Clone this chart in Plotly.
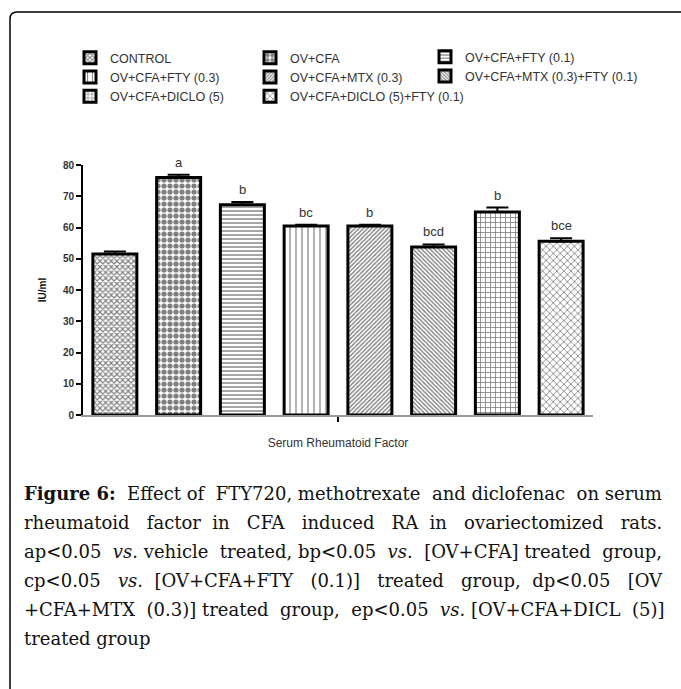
import plotly.graph_objects as go

groups = ["CONTROL", "OV+CFA", "OV+CFA+FTY (0.1)", "OV+CFA+FTY (0.3)",
          "OV+CFA+MTX (0.3)", "OV+CFA+MTX (0.3)+FTY (0.1)",
          "OV+CFA+DICLO (5)", "OV+CFA+DICLO (5)+FTY (0.1)"]
values = [51.5, 76.0, 67.3, 60.5, 60.5, 53.8, 65.0, 55.6]
errors = [0.8, 0.9, 0.9, 0.4, 0.4, 0.8, 1.4, 1.0]
letters = ["", "a", "b", "bc", "b", "bcd", "b", "bce"]
y_ticks = [0, 10, 20, 30, 40, 50, 60, 70, 80]

pat_shape = ["x", ".", "-", "|", "/", "\\", "+", "x"]
pat_size = [4, 6, 4, 6, 3, 3, 5, 5]
pat_sol = [0.5, 0.6, 0.35, 0.2, 0.45, 0.45, 0.3, 0.3]
legend_of = ["legend", "legend2", "legend3", "legend", "legend2", "legend3", "legend", "legend2"]

caption_lines = [
    "<b>Figure 6:</b> Effect of FTY720, methotrexate and diclofenac on serum",
    "rheumatoid factor in CFA induced RA in ovariectomized rats.",
    "ap<0.05 <i>vs.</i> vehicle treated, bp<0.05 <i>vs.</i> [OV+CFA] treated group,",
    "cp<0.05 <i>vs.</i> [OV+CFA+FTY (0.1)] treated group, dp<0.05 [OV",
    "+CFA+MTX (0.3)] treated group, ep<0.05 <i>vs.</i> [OV+CFA+DICL (5)]",
    "treated group",
]
# extra spacing (non-breaking spaces) to mimic the justified paragraph
caption_pad = [4, 14, 5, 12, 5, 0]


def justify(line, extra):
    words = line.split(" ")
    gaps = len(words) - 1
    if gaps <= 0 or extra <= 0:
        return line
    base, rem = divmod(extra, gaps)
    # spread the remainder evenly along the line
    marks = {int((j + 0.5) * gaps / rem) for j in range(rem)} if rem else set()
    out = words[0]
    for k in range(gaps):
        n = base + (1 if k in marks else 0)
        out += " " + "\u00a0" * n + words[k + 1]
    return out


fig = go.Figure()
for i, g in enumerate(groups):
    fig.add_trace(go.Bar(
        x=[g], y=[values[i]], name=g, legend=legend_of[i],
        marker=dict(color="white", line=dict(color="black", width=3),
                    pattern=dict(shape=pat_shape[i], size=pat_size[i], solidity=pat_sol[i],
                                 fgcolor="black", bgcolor="white")),
        error_y=dict(type="data", array=[errors[i]], arrayminus=[0], symmetric=False,
                     color="black", thickness=2, width=11),
    ))

for i, g in enumerate(groups):
    if letters[i]:
        fig.add_annotation(x=g, y=values[i] + errors[i], text=letters[i], showarrow=False,
                           yanchor="bottom", yshift=3,
                           font=dict(family="Liberation Sans", size=13, color="#333"))

W, H = 681, 689
L, R, T, B = 83, 88, 165, 274
pw, ph = W - L - R, H - T - B


def px(x):
    return (x - L) / pw


def py(y):
    return (H - B - y) / ph


legend_style = dict(font=dict(family="Liberation Sans", size=12.5, color="#333"),
                    bgcolor="rgba(0,0,0,0)", yanchor="top", xanchor="left",
                    orientation="v", tracegroupgap=0, itemwidth=30)
fig.update_layout(
    legend=dict(x=px(70), y=py(43), **legend_style),
    legend2=dict(x=px(250), y=py(43), **legend_style),
    legend3=dict(x=px(425), y=py(42), **legend_style),
)

cap_y0 = 493
for k, line in enumerate(caption_lines):
    fig.add_annotation(xref="paper", yref="paper", x=px(22), y=py(cap_y0 + 29 * k),
                       xanchor="left", yanchor="middle", showarrow=False,
                       text=justify(line, caption_pad[k]),
                       font=dict(family="DejaVu Serif", size=18, color="#111"))

# frame
x0, y0, x1, y1, r = px(10), py(12), px(700), py(700), 7
fig.add_shape(type="path", xref="paper", yref="paper",
              path=f"M {x0},{y1} L {x0},{py(12 + r)} Q {x0},{y0} {px(10 + r)},{y0} L {x1},{y0}",
              line=dict(color="black", width=1.5))

fig.update_layout(
    width=W, height=H, margin=dict(l=L, r=R, t=T, b=B, autoexpand=False),
    plot_bgcolor="white", paper_bgcolor="white",
    barmode="overlay", bargap=0.31, showlegend=True,
    xaxis=dict(range=[-0.5, 7.5], showline=True, linecolor="#999", linewidth=2,
               tickmode="array", tickvals=[3.5], ticks="outside", ticklen=5, tickwidth=2,
               tickcolor="black", showticklabels=False, showgrid=False, zeroline=False,
               title=dict(text="Serum Rheumatoid Factor", standoff=18,
                          font=dict(family="Liberation Sans", size=12, color="#333"))),
    yaxis=dict(range=[0, 80], tickmode="array", tickvals=y_ticks, showline=True,
               linecolor="black", linewidth=2, ticks="outside", ticklen=5, tickwidth=1.5,
               tickcolor="black", showgrid=False, zeroline=False,
               tickfont=dict(family="Liberation Sans", size=10, color="#333", weight="bold"),
               title=dict(text="IU/ml", standoff=14,
                          font=dict(family="Liberation Sans", size=10, color="#111", weight="bold"))),
)

fig.write_html("out.html")
